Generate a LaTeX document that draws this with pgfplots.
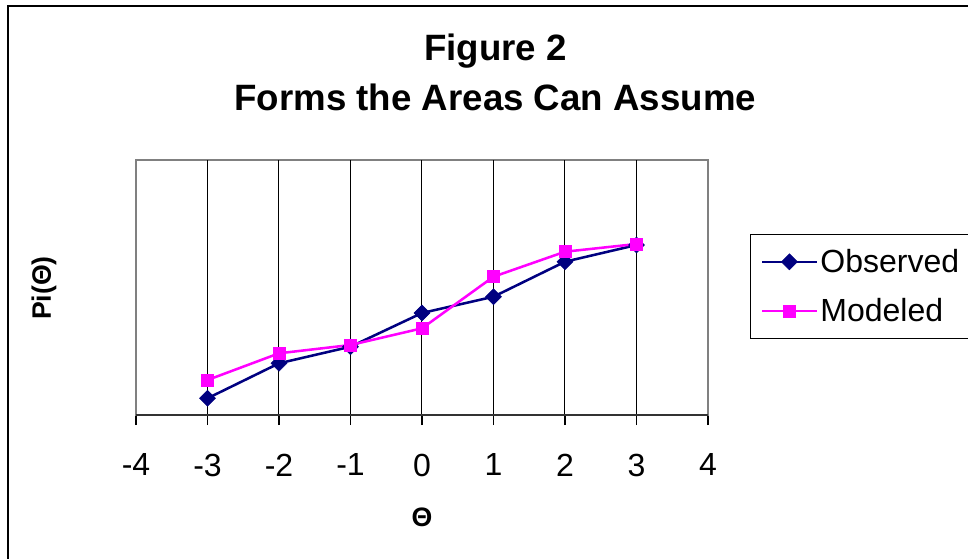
\documentclass[border=0pt]{standalone}
\usepackage{pgfplots}
\pgfplotsset{compat=1.18}
\usepackage{fontspec}
\setmainfont{Liberation Sans}
\definecolor{obs}{RGB}{0,0,128}
\definecolor{modl}{RGB}{255,0,255}
\definecolor{bordergray}{RGB}{128,128,128}
\begin{document}
\begin{tikzpicture}
% page 968x558 px at 0.75pt/px
\path[use as bounding box] (0pt,0pt) rectangle (726pt,-418.5pt);
\clip (0pt,0pt) rectangle (726pt,-418.5pt);
\fill[white] (0pt,0pt) rectangle (726pt,-418.5pt);
% outer chart border (only top and left visible)
\draw[black, line width=1.4pt] (6pt,-4.5pt) rectangle (740pt,-430pt);
% title
\node[anchor=base, font=\fontsize{27.5}{32}\selectfont\bfseries] at (371.5pt,-45pt) {Figure 2};
\node[anchor=base, font=\fontsize{27.5}{32}\selectfont\bfseries] at (371.5pt,-82.5pt) {Forms the Areas Can Assume};
% axis titles
\node[rotate=90, font=\fontsize{20}{23}\selectfont\bfseries] at (33pt,-216pt) {Pi(Θ)};
\node[anchor=base, font=\fontsize{20}{23}\selectfont\bfseries] at (316.5pt,-395pt) {Θ};
\begin{axis}[
  at={(102pt,-311.25pt)}, anchor=south west,
  scale only axis, width=429pt, height=191.25pt,
  xmin=-4, xmax=4, ymin=0, ymax=255,
  ytick=\empty,
  xtick={-4,-3,-2,-1,0,1,2,3,4},
  xticklabels={-4,-3,-2,-1,0,1,2,3,4},
  xtick pos=bottom,
  tick align=outside,
  major tick length=7.5pt,
  xtick style={black, line width=0.8pt},
  extra x ticks={-3,-2,-1,0,1,2,3},
  extra x tick labels={},
  extra x tick style={grid=major, major grid style={black, line width=0.75pt}, xtick style={draw=none}},
  xticklabel style={font=\fontsize{24}{28}\selectfont, yshift=-18pt},
  axis line style={bordergray, line width=1.6pt},
  legend style={at={(1.0734,0.7098)}, anchor=north west, draw=black, line width=0.8pt,
    font=\fontsize{24}{28}\selectfont, inner xsep=8pt, inner ysep=9pt, row sep=14pt},
  legend cell align=left,
  legend image code/.code={
    \draw[#1, line width=1.4pt] (0pt,0pt) -- (41pt,0pt);
    \draw[#1, only marks] plot coordinates {(20.5pt,0pt)};
  },
]
\draw[black!80, line width=1.6pt] (axis cs:-4,0) -- (axis cs:4,0);
\addplot[obs, line width=1.9pt, mark=square*, mark size=4.2pt, mark options={rotate=45, fill=obs, draw=obs, line width=0.5pt}]
 coordinates {(-3,16.7) (-2,51.7) (-1,68.3) (0,102) (1,118.3) (2,153.3) (3,170)};
\addlegendentry{Observed\hspace{60pt}}
\addplot[modl, line width=1.9pt, mark=square*, mark size=4.5pt, mark options={fill=modl, draw=modl, line width=0.5pt}]
 coordinates {(-3,35) (-2,61.7) (-1,70) (0,86.7) (1,138.3) (2,163.3) (3,171)};
\addlegendentry{Modeled}
\end{axis}
\end{tikzpicture}
\end{document}
